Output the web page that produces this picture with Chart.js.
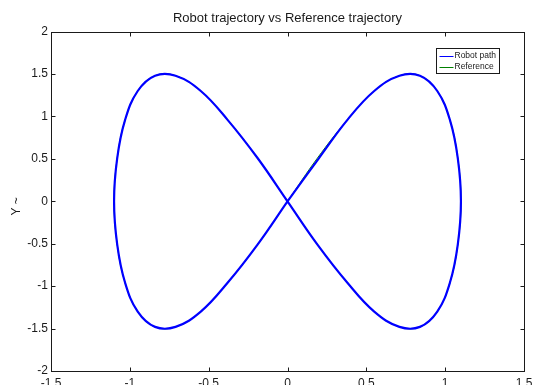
<!DOCTYPE html>
<html>
<head>
<meta charset="utf-8">
<script src="https://cdn.jsdelivr.net/npm/chart.js@4/dist/chart.umd.min.js"></script>
<style>
	html, body { margin: 0; padding: 0; background: #fff; overflow: hidden; }
	canvas { display: block; }
</style>
</head>
<body>
<canvas id="trajectory" width="534" height="385"></canvas>
<script>
var pathX = [0, 0.2, 0.38, 0.55, 0.71, 0.84, 0.95, 1.03, 1.08, 1.1, 1.08, 1.03, 0.95, 0.84, 0.71, 0.55, 0.38, 0.19,
	0, -0.19, -0.38, -0.55, -0.71, -0.84, -0.95, -1.03, -1.08, -1.1, -1.08, -1.03, -0.95, -0.84, -0.71, -0.55, -0.38, -0.19, 0];
var pathY = [0, 0.51, 0.96, 1.3, 1.48, 1.48, 1.3, 0.96, 0.51, 0, -0.51, -0.96, -1.3, -1.48, -1.48, -1.3, -0.96, -0.51,
	0, 0.51, 0.96, 1.3, 1.48, 1.48, 1.3, 0.96, 0.51, 0, -0.51, -0.96, -1.3, -1.48, -1.48, -1.3, -0.96, -0.51, 0];

// Reference trajectory sits right under the robot path.
var refX = [0, 0.19, 0.38, 0.55, 0.71, 0.84, 0.95, 1.03, 1.08, 1.1, 1.08, 1.03, 0.95, 0.84, 0.71, 0.55, 0.38, 0.19,
	0, -0.19, -0.38, -0.55, -0.71, -0.84, -0.95, -1.03, -1.08, -1.1, -1.08, -1.03, -0.95, -0.84, -0.71, -0.55, -0.38, -0.19, 0];
var refY = [0, 0.51, 0.96, 1.3, 1.48, 1.48, 1.3, 0.96, 0.51, 0, -0.51, -0.96, -1.3, -1.48, -1.48, -1.3, -0.96, -0.51,
	0, 0.51, 0.96, 1.3, 1.48, 1.48, 1.3, 0.96, 0.51, 0, -0.51, -0.96, -1.3, -1.48, -1.48, -1.3, -0.96, -0.51, 0];

var seriesLabels = ["Robot path", "Reference"];
var xTickLabels = ["-1.5", "-1", "-0.5", "0", "0.5", "1", "1.5"];
var yTickLabels = ["-2", "-1.5", "-1", "-0.5", "0", "0.5", "1", "1.5", "2"];
var yAxisLabel = "Y ~";
var chartTitle = "Robot trajectory vs Reference trajectory";

var FONT = "'Liberation Sans', Helvetica, Arial, sans-serif";
var INK = "#1a1a1a";

function toPoints(xs, ys) {
	var pts = [];
	for (var i = 0; i < xs.length; i++) {
		pts.push({ x: xs[i], y: ys[i] });
	}
	return pts;
}

// MATLAB-ish box: frame, inward ticks, boxed legend and rotated y label.
var matlabBox = {
	id: "matlabBox",
	afterDraw: function (chart) {
		var ctx = chart.ctx;
		var a = chart.chartArea;
		var l = Math.round(a.left) + 0.5, r = Math.round(a.right) + 0.5;
		var t = Math.round(a.top) + 0.5, b = Math.round(a.bottom) + 0.5;
		var tick = 4;
		ctx.save();
		ctx.strokeStyle = INK;
		ctx.lineWidth = 1;
		ctx.strokeRect(l, t, r - l, b - t);

		ctx.beginPath();
		chart.scales.x.ticks.forEach(function (tk) {
			var px = Math.round(chart.scales.x.getPixelForValue(tk.value)) + 0.5;
			ctx.moveTo(px, b); ctx.lineTo(px, b - tick);
			ctx.moveTo(px, t); ctx.lineTo(px, t + tick);
		});
		chart.scales.y.ticks.forEach(function (tk) {
			var py = Math.round(chart.scales.y.getPixelForValue(tk.value)) + 0.5;
			ctx.moveTo(l, py); ctx.lineTo(l + tick, py);
			ctx.moveTo(r, py); ctx.lineTo(r - tick, py);
		});
		ctx.stroke();

		// y label
		ctx.fillStyle = INK;
		ctx.font = "12px " + FONT;
		ctx.textAlign = "center";
		ctx.textBaseline = "middle";
		ctx.translate(17, (a.top + a.bottom) / 2 + 5);
		ctx.rotate(-Math.PI / 2);
		ctx.fillText(yAxisLabel, 0, 0);
		ctx.restore();

		// legend
		ctx.save();
		var lx = Math.round(a.right) - 88 + 0.5, ly = Math.round(a.top) + 16 + 0.5;
		var lw = 63, lh = 25;
		ctx.fillStyle = "#fff";
		ctx.fillRect(lx, ly, lw, lh);
		ctx.strokeStyle = INK;
		ctx.strokeRect(lx, ly, lw, lh);
		ctx.font = "8.5px " + FONT;
		ctx.textAlign = "left";
		ctx.textBaseline = "middle";
		chart.data.datasets.forEach(function (ds, i) {
			var rowY = ly + 7 + i * 11;
			ctx.strokeStyle = ds.borderColor;
			ctx.lineWidth = 1;
			ctx.beginPath();
			ctx.moveTo(lx + 3, Math.round(rowY) + 0.5);
			ctx.lineTo(lx + 17, Math.round(rowY) + 0.5);
			ctx.stroke();
			ctx.fillStyle = INK;
			ctx.fillText(ds.label, lx + 18, rowY);
		});
		ctx.restore();
	},
};

var ctx = document.getElementById("trajectory");
var config = {
	type: "scatter",
	data: {
		datasets: [
			{
				label: seriesLabels[0],
				data: toPoints(pathX, pathY),
				showLine: true,
				borderColor: "#0000ff",
				borderWidth: 2.2,
				tension: 0.4,
				pointRadius: 0,
				fill: false,
			},
			{
				label: seriesLabels[1],
				data: toPoints(refX, refY),
				showLine: true,
				borderColor: "#008000",
				borderWidth: 1,
				tension: 0.4,
				pointRadius: 0,
				fill: false,
			},
		],
	},
	plugins: [matlabBox],
	options: {
		responsive: false,
		animation: false,
		devicePixelRatio: 1,
		layout: {
			padding: { left: 0, right: 10, top: 0, bottom: 0 },
		},
		plugins: {
			legend: { display: false },
			tooltip: { enabled: false },
			title: {
				display: true,
				text: chartTitle,
				fullSize: false,
				color: INK,
				font: { family: FONT, size: 13, weight: "normal", lineHeight: 1.2 },
				padding: { top: 11, bottom: 5 },
			},
		},
		scales: {
			x: {
				type: "linear",
				min: -1.5,
				max: 1.5,
				afterFit: function (scale) {
					scale.height = 14;
					scale.paddingLeft = 0;
					scale.paddingRight = 0;
				},
				afterBuildTicks: function (scale) {
					scale.ticks = xTickLabels.map(function (s) { return { value: parseFloat(s) }; });
				},
				ticks: {
					callback: function (v, i) { return xTickLabels[i]; },
					color: INK,
					padding: 5,
					maxRotation: 0,
					autoSkip: false,
					font: { family: FONT, size: 12 },
				},
				grid: { display: false, drawTicks: false },
				border: { display: false },
			},
			y: {
				type: "linear",
				min: -2,
				max: 2,
				afterFit: function (scale) {
					scale.width = 51;
					scale.paddingTop = 0;
					scale.paddingBottom = 0;
				},
				afterBuildTicks: function (scale) {
					scale.ticks = yTickLabels.map(function (s) { return { value: parseFloat(s) }; });
				},
				ticks: {
					callback: function (v, i) { return yTickLabels[i]; },
					color: INK,
					padding: 3,
					autoSkip: false,
					font: { family: FONT, size: 12 },
				},
				grid: { display: false, drawTicks: false },
				border: { display: false },
			},
		},
	},
};

window.trajectoryChart = new Chart(ctx, config);
</script>
</body>
</html>
